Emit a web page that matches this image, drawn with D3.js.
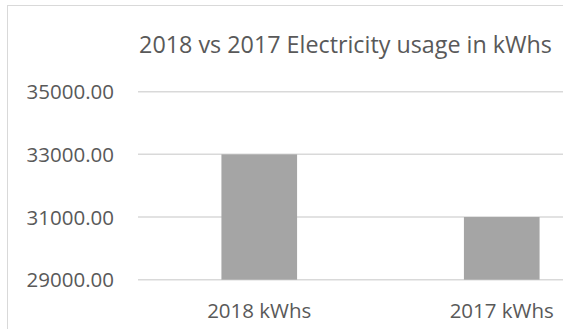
<!DOCTYPE html>
<html>
<head>
<meta charset="utf-8">
<script src="https://cdn.jsdelivr.net/npm/d3@7"></script>
<style>
  html, body { margin: 0; padding: 0; background: #fff; }
  svg { display: block; }
  text { font-family: "Open Sans", "Liberation Sans", sans-serif; fill: #595959; }
</style>
</head>
<body>
<svg id="chart" width="563" height="329"></svg>
<script>
// Annual electricity usage
const categories = ["2018 kWhs", "2017 kWhs"];
const usage = [33000, 31000];
const yTicks = [29000, 31000, 33000, 35000];
const title = "2018 vs 2017 Electricity usage in kWhs";

const svg = d3.select("#chart");

// chart frame
svg.append("rect")
  .attr("x", 7.5).attr("y", 5.5)
  .attr("width", 700).attr("height", 400)
  .attr("fill", "none")
  .attr("stroke", "#d9d9d9")
  .attr("stroke-width", 1);

const x = d3.scaleBand()
  .domain(categories)
  .range([138, 623])
  .paddingInner(0.688)
  .paddingOuter(0.344);

const y = d3.scaleLinear()
  .domain([29000, 35000])
  .range([279.7, 91.7]);

// gridlines
svg.append("g")
  .selectAll("line")
  .data(yTicks)
  .join("line")
  .attr("x1", 138).attr("x2", 623)
  .attr("y1", d => y(d)).attr("y2", d => y(d))
  .attr("stroke", "#d9d9d9")
  .attr("stroke-width", 1.5);

// y-axis labels
const yAxis = d3.axisLeft(y)
  .tickValues(yTicks)
  .tickFormat(d3.format(".2f"))
  .tickSize(0)
  .tickPadding(0);

const yg = svg.append("g")
  .attr("transform", "translate(114,0)")
  .call(yAxis);
yg.select(".domain").remove();
yg.attr("font-family", null);
yg.selectAll("text")
  .attr("font-size", 20.5)
  .attr("dy", "0.35em")
  .attr("fill", "#595959");

// bars
svg.append("g")
  .selectAll("rect")
  .data(categories.map((c, i) => ({ c, v: usage[i] })))
  .join("rect")
  .attr("x", d => x(d.c))
  .attr("width", x.bandwidth())
  .attr("y", d => y(d.v))
  .attr("height", d => y(29000) - y(d.v))
  .attr("fill", "#a5a5a5");

// x-axis labels
const xAxis = d3.axisBottom(x).tickSize(0).tickPadding(0);
const xg = svg.append("g")
  .attr("transform", "translate(0,317.5)")
  .call(xAxis);
xg.select(".domain").remove();
xg.attr("font-family", null);
xg.selectAll("text")
  .attr("dy", 0)
  .attr("y", 0)
  .attr("font-size", 20.5)
  .attr("fill", "#595959");

// title
svg.append("text")
  .attr("x", 345.5)
  .attr("y", 53)
  .attr("text-anchor", "middle")
  .attr("font-size", 23.3)
  .text(title);
</script>
</body>
</html>
